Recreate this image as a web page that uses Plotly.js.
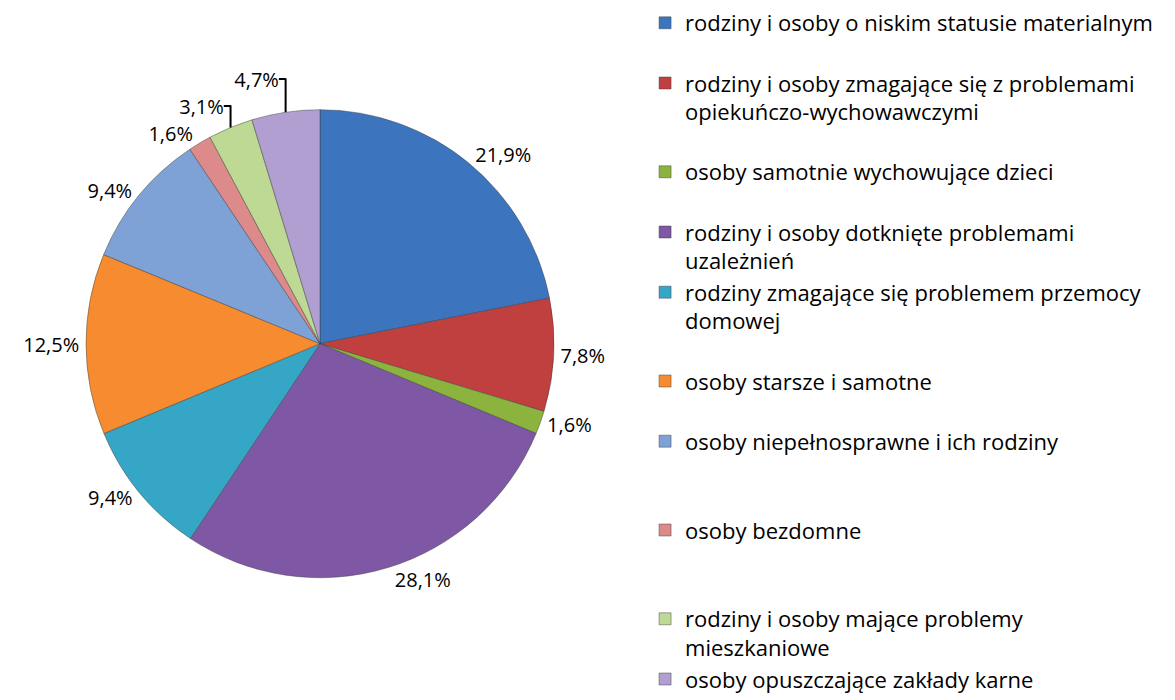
<!DOCTYPE html>
<html>
<head>
<meta charset="utf-8">
<script src="https://cdn.plot.ly/plotly-3.0.1.min.js"></script>
<style>
  html, body { margin: 0; padding: 0; background: #fff; }
  #chart { width: 1175px; height: 700px; }
</style>
</head>
<body>
<div id="chart"></div>
<script>
// dane wykresu
var labels = [
  "rodziny i osoby o niskim statusie materialnym",
  "rodziny i osoby zmagające się z problemami<br>opiekuńczo-wychowawczymi",
  "osoby samotnie wychowujące dzieci",
  "rodziny i osoby dotknięte problemami<br>uzależnień",
  "rodziny zmagające się problemem przemocy<br>domowej",
  "osoby starsze i samotne",
  "osoby niepełnosprawne i ich rodziny",
  "osoby bezdomne",
  "rodziny i osoby mające problemy<br>mieszkaniowe",
  "osoby opuszczające zakłady karne"
];
var values = [21.9, 7.8, 1.6, 28.1, 9.4, 12.5, 9.4, 1.6, 3.1, 4.7];
var colors = ["#3D74BE", "#C0403F", "#8CB33E", "#7E57A5", "#36A6C6",
              "#F68B2F", "#7FA2D6", "#DD8A8A", "#BDD993", "#B09FD0"];
// ile linii zajmuje wpis w legendzie (odstepy jak w oryginale)
var legendLines = [2, 3, 2, 2, 3, 2, 3, 3, 2, 1];

var legendLabels = labels.map(function(l, i){
  var n = l.split("<br>").length;
  while (n < legendLines[i]) { l += "<br>\u00a0"; n++; }
  return l;
});

var fontFam = "'Open Sans', Lato, sans-serif";

var data = [{
  type: "pie",
  labels: legendLabels,
  values: values,
  sort: false,
  direction: "clockwise",
  rotation: 0,
  marker: { colors: colors, line: { color: "rgba(60,60,60,0.45)", width: 1 } },
  textposition: "outside",
  texttemplate: "%{value:.1f}%",
  textfont: { family: fontFam, size: 20, color: "#000" },
  hoverinfo: "label+percent",
  domain: { x: [0.0732, 0.4715], y: [0.173, 0.845] },
  automargin: false
}];

var layout = {
  width: 1175,
  height: 700,
  margin: { l: 0, r: 0, t: 0, b: 0 },
  separators: ", ",
  paper_bgcolor: "#fff",
  showlegend: true,
  legend: {
    x: 0.549, xanchor: "left",
    y: 0.975, yanchor: "top",
    valign: "top",
    maxheight: 1,
    font: { family: fontFam, size: 22, color: "#000" },
    itemwidth: 30
  },
  font: { family: fontFam }
};

Plotly.newPlot("chart", data, layout, { displayModeBar: false, staticPlot: true });
</script>
</body>
</html>
